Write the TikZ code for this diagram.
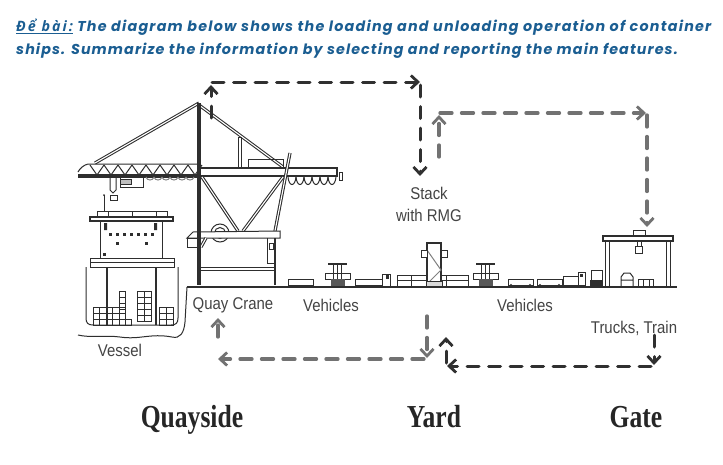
\documentclass[tikz,border=0pt]{standalone}
\usepackage{fontspec}
\usepackage{tkz-euclide}
\usepackage{tikz}
\usetikzlibrary{calc,arrows.meta}
\setmainfont{Liberation Sans}
\newfontfamily\headfont[LetterSpace=7.6]{Poppins}
\newfontfamily\headfontwide[LetterSpace=8.6]{Poppins}
\newfontfamily\vietfont[LetterSpace=14]{Open Sans}
\newfontfamily\zonefont{Liberation Serif}
\definecolor{headblue}{HTML}{1B5E92}
\definecolor{inkgray}{HTML}{2E2E2E}
\definecolor{labelgray}{HTML}{444444}
\definecolor{darkarrow}{HTML}{303030}
\definecolor{lightarrow}{HTML}{727272}
\tikzset{
  ink/.style={draw=inkgray,line width=1pt},
  rail/.style={draw=inkgray,line width=3.2pt,postaction={draw=white,line width=1.1pt}},
  legbar/.style={draw=inkgray,line width=1pt,fill=white},
  heavy/.style={draw=inkgray,line width=3.4pt},
  headtext/.style={anchor=base west,inner sep=0pt,text=headblue,font=\fontsize{14.3}{16}\headfont\bfseries\itshape},
  parttext/.style={inner sep=0pt,text=labelgray,font=\fontsize{17}{19}\selectfont,xscale=0.88},
  zonetext/.style={anchor=base,inner sep=0pt,text=black!85,font=\fontsize{32}{34}\zonefont\bfseries,xscale=0.8,transform shape},
  darkline/.style={draw=darkarrow,line width=3pt,dash pattern=on 12pt off 9.5pt,
    -{Straight Barb[length=7pt,width=13pt,line width=2.8pt]}},
  lightline/.style={draw=lightarrow,line width=3.3pt,dash pattern=on 12pt off 9.5pt,
    -{Straight Barb[length=7pt,width=13pt,line width=2.8pt]}},
}
\newcommand{\straddlecarrier}[1]{%
  \begin{scope}[shift={(#1,0)}]
    \draw[ink,line width=1.8pt] (3,264) -- (22,264);
    \draw[ink] (8,263) -- (8,286) (12,263) -- (12,286) (16,263) -- (16,286);
    \draw[ink] (0,273) rectangle (25,279);
    \fill[inkgray!80] (6,279) rectangle (20,286);
  \end{scope}}
\newcommand{\trailer}[2]{%
  \draw[ink] (#1,279) rectangle (#1+#2,285);
  \fill[inkgray] (#1+3,285) circle (1.2) (#1+#2-3,285) circle (1.2);}
\begin{document}
\begin{tikzpicture}[x=1pt,y=-1pt]
  \useasboundingbox[fill=white] (0,0) rectangle (723,464);
  % heading
  \node[headtext] (head1) at (16,31.5) {{\vietfont\underline{Để bài:}} {\headfontwide The diagram below shows the loading and unloading operation of container}};
  \node[headtext] (head2) at (16,54) {ships. Summarize the information by selecting and reporting the main features.};
  % ground and quay wall
  \draw[ink,line width=1.3pt] (187,287) -- (677,287);
  \draw[ink] (187,287) -- (185,322) .. controls (184,333) and (180,339) .. (172,337)
     .. controls (150,333) and (140,340) .. (120,337) .. controls (105,335) and (90,338) .. (78,335);
  % vessel
  \draw[ink] (86,267) -- (86,318) .. controls (86,323) and (88,325) .. (93,325) -- (171,325)
     .. controls (176,325) and (178,323) .. (178,318) -- (178,267);
  \draw[ink,fill=white] (90,258) rectangle (174,267);
  \draw[ink] (90,262) -- (174,262);
  \draw[ink] (100,222) -- (100,258) (162,222) -- (162,258);
  \draw[ink,line width=1.3pt,fill=white] (90,217) rectangle (173,221);
  \draw[ink] (97,211) rectangle (167,216) (108,211) -- (108,216) (132,211) -- (132,216) (156,211) -- (156,216);
  \draw[ink] (104,195) -- (104,211);
  \fill[inkgray] (104,195) circle (1);
  \foreach \x in {109,116,...,153}{\fill[inkgray] (\x,232.5) rectangle ++(3,3);}
  \foreach \x/\y in {116/242,145/242,103/253}{\fill[inkgray] (\x,\y) rectangle ++(3,3);}
  \fill[inkgray] (104,223) rectangle (107,230) (154,223) rectangle (157,230);
  \draw[ink,line width=1.4pt] (107,267) -- (107,325) (156,267) -- (156,325);
  % containers
  \foreach \x in {93,99.5,106,112.5,119}{\foreach \y in {307,313,319}{\draw[ink] (\x,\y) rectangle ++(6.5,6);}}
  \draw[ink] (125.5,319) rectangle ++(6,6);
  \foreach \y in {291,297,303}{\draw[ink] (119,\y) rectangle ++(6.5,6);}
  \foreach \x in {137,144}{\foreach \y in {291,297,...,319}{\draw[ink] (\x,\y) rectangle ++(7,6);}}
  \foreach \x in {159,166}{\foreach \y in {307,313,319}{\draw[ink] (\x,\y) rectangle ++(7,6);}}
  % quay crane
  \draw[rail] (199,103) -- (95,163);
  \draw[rail] (199,105) -- (283,167);
  \draw[legbar] (238.5,137) rectangle (241.5,167);
  \draw[ink] (248,167) -- (248,159) -- (283,159) -- (283,167);
  \draw[ink] (78,172) .. controls (80,168) and (84,165) .. (88,164) -- (199,164);
  \draw[heavy] (78,176) -- (199,176);
  \foreach \x in {90,104,...,188}{\draw[ink] (\x,165) -- (\x+7,175) -- (\x+14,165);}
  \draw[ink,line width=1.3pt] (199,168) -- (337,168) -- (337,176) -- (199,176);
  \draw[ink,fill=white] (339,172) rectangle (342,180);
  \foreach \x in {288,296,...,328}{\draw[ink] (\x,177) .. controls (\x+1,187) and (\x+7,187) .. (\x+8,177);}
  \foreach \x in {146,154,...,190}{\draw[ink,gray] (\x,177) .. controls (\x+1,181) and (\x+7,181) .. (\x+8,177);}
  \draw[ink,fill=white] (120,177) rectangle (143,187);
  \draw[ink,fill=gray!50] (120,179) rectangle (131,184);
  \draw[ink] (110,178) -- (110,190) -- (113,193) -- (116,190) -- (116,178);
  \draw[ink,fill=white] (110,195) rectangle (117,200);
  \draw[rail] (290,153) -- (275,231);
  \draw[rail] (202,177) -- (238,231);
  \draw[rail] (283,177) -- (243,231);
  \draw[ink,fill=white] (220,233) circle (9);
  \draw[ink] (220,233) circle (5.5);
  \draw[ink,fill=white] (193,232) -- (280,231) -- (280,238) -- (187,238) -- cycle;
  \draw[ink,fill=white] (187,238) rectangle (199,247);
  \draw[rail] (201,247) -- (206,238);
  \draw[heavy] (199,103) -- (199,285);
  \draw[ink,line width=2.2pt] (275,238) -- (275,285);
  \draw[ink] (201,267) -- (274,267) (201,270) -- (274,270);
  \draw[ink] (267,238) -- (267,263) -- (274,263);
  \draw[ink] (269,243) rectangle (273,249);
  % vehicles and yard
  \draw[ink] (288,279) rectangle (313,285);
  \draw[ink] (286,286) -- (315,286);
  \straddlecarrier{325}
  \draw[ink] (355,279) rectangle (382,285) (382,274) rectangle (390,286);
  \fill[inkgray] (386,275) rectangle (389,279);
  \draw[ink] (397,275) rectangle (468,286) (397,280) -- (468,280) (411,275) -- (411,286) (446,275) -- (446,286);
  \draw[ink,fill=white] (427,243) rectangle (441,284);
  \draw[ink,line width=1.8pt] (426,243) -- (442,243) (427,243) -- (427,284) (441,243) -- (441,284);
  \draw[ink,gray] (427,250) -- (441,270) -- (427,284);
  \draw[ink,fill=white] (421,250) rectangle (427,257) (441,250) rectangle (447,257);
  \draw[ink,fill=gray!30] (426,281) rectangle (442,286);
  \straddlecarrier{473}
  \foreach \x in {508,537}{\trailer{\x}{25}}
  \draw[ink] (563,276) rectangle (578,285) (578,272) rectangle (585,285);
  \fill[inkgray] (580,274) rectangle (583,277);
  \draw[ink] (591,270) rectangle (602,280);
  \fill[inkgray] (590,280) rectangle (603,287);
  % gate gantry
  \draw[ink,line width=1.1pt,fill=white] (603,236) rectangle (673,241);
  \draw[ink] (633,230) rectangle (645,235);
  \draw[ink] (637,241) -- (637,246) (641,241) -- (641,246);
  \draw[ink,fill=white] (635,246) rectangle (642,253);
  \draw[legbar] (605,241) rectangle (609,286);
  \draw[legbar] (666,241) rectangle (670,286);
  \draw[ink] (621,286) -- (621,277) -- (624,273) -- (630,273) -- (633,277) -- (633,286) (621,280) -- (633,280);
  \draw[ink] (638,286) -- (638,279) -- (653,279) -- (653,286) (643,279) -- (643,286) (649,279) -- (649,286);
  % labels
  \node[parttext] (stack1) at (429,193) {Stack};
  \node[parttext] (stack2) at (429,215) {with RMG};
  \node[parttext] (quaycrane) at (233,305) {Quay Crane};
  \node[parttext] (vehiclesA) at (331,305) {Vehicles};
  \node[parttext] (vehiclesB) at (525,305) {Vehicles};
  \node[parttext] (trucks) at (634,328) {Trucks, Train};
  \node[parttext] (vessel) at (120,350) {Vessel};
  \node[zonetext] (quayside) at (192,427) {Quayside};
  \node[zonetext] (yard) at (434,427) {Yard};
  \node[zonetext] (gate) at (636,427) {Gate};
  % flow points
  \tkzDefPoint(211,118){Da}
  \tkzDefPoint(211,85){Db}
  \tkzDefPoint(212,82){Dc}
  \tkzDefPoint(420,82){Dd}
  \tkzDefPoint(420,85){De}
  \tkzDefPoint(420,176){Df}
  \tkzDefPoint(439,157){Ga}
  \tkzDefPoint(439,115){Gb}
  \tkzDefPoint(440,113){Gc}
  \tkzDefPoint(646,113){Gd}
  \tkzDefPoint(647,115){Ge}
  \tkzDefPoint(647,227){Gf}
  \tkzDefPoint(427,316){Ha}
  \tkzDefPoint(427,358){Hb}
  \tkzDefPoint(424,359){Hc}
  \tkzDefPoint(218,359){Hd}
  \tkzDefPoint(218,337){He}
  \tkzDefPoint(218,318){Hf}
  \tkzDefPoint(654,335){Ka}
  \tkzDefPoint(654,365){Kb}
  \tkzDefPoint(651,366){Kc}
  \tkzDefPoint(447,366){Kd}
  \tkzDefPoint(446,363){Ke}
  \tkzDefPoint(446,337){Kf}
  \tkzDrawSegments[darkline](Da,Db Dc,Dd De,Df Ka,Kb Kc,Kd Ke,Kf)
  \tkzDrawSegments[lightline](Ga,Gb Gc,Gd Ge,Gf Ha,Hb Hc,Hd He,Hf)
\end{tikzpicture}
\end{document}
